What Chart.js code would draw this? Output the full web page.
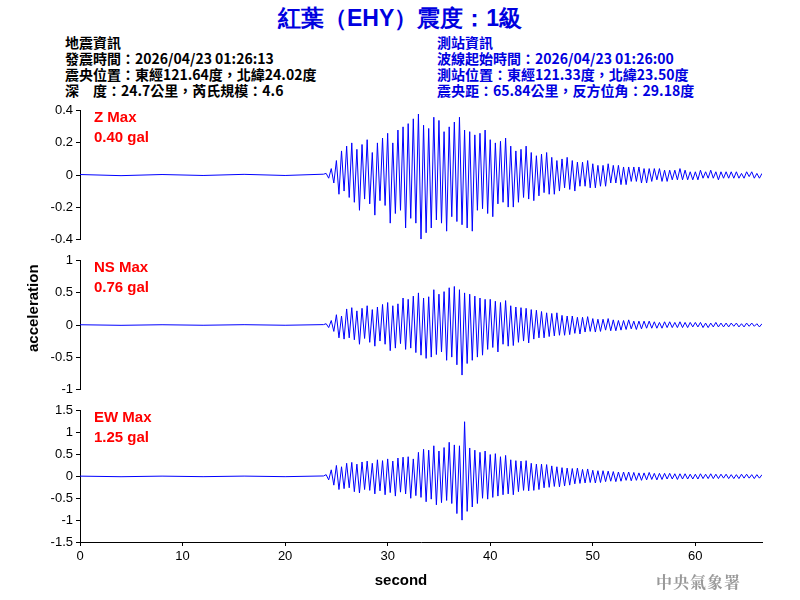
<!DOCTYPE html>
<html>
<head>
<meta charset="UTF-8">
<script src="https://cdn.jsdelivr.net/npm/chart.js@4/dist/chart.umd.min.js"></script>
<style>
  body { margin: 0; width: 800px; height: 600px; background: #fff; position: relative; overflow: hidden;
         font-family: "Liberation Sans", Arial, sans-serif; }
  .abs { position: absolute; white-space: nowrap; }
  #title { left: 0; width: 800px; top: 3px; text-align: center; color: #0000e0; font-weight: bold; font-size: 23px; }
  .info { font-size: 14px; line-height: 16px; font-weight: bold; }
  .info.cjk { font-family: "Noto Sans CJK TC", "Liberation Sans", sans-serif; }
  #left { left: 65px; top: 34px; color: #000; }
  #right { left: 437px; top: 34px; color: #0000e0; }
  .maxlbl { color: #f00; font-size: 15px; line-height: 20px; font-weight: bold; left: 94px; }
  canvas { position: absolute; left: 0; }
  #ylab { left: 24px; top: 352px; transform: rotate(-90deg); transform-origin: left top; font-weight: bold; font-size: 15px; }
  #xlab { left: 0; width: 802px; text-align: center; top: 571px; font-weight: bold; font-size: 15px; }
  #cwb { left: 656px; top: 570px; color: #999; font-size: 16px; font-weight: bold; font-family: "Noto Serif CJK TC", "Noto Sans CJK TC", serif; letter-spacing: 1px; }
</style>
</head>
<body>
<div id="title" class="abs">紅葉（EHY）震度：1級</div>
<div id="left" class="abs info cjk">地震資訊<br>發震時間：2026/04/23 01:26:13<br>震央位置：東經121.64度，北緯24.02度<br>深　度：24.7公里，芮氏規模：4.6</div>
<div id="right" class="abs info cjk">測站資訊<br>波線起始時間：2026/04/23 01:26:00<br>測站位置：東經121.33度，北緯23.50度<br>震央距：65.84公里，反方位角：29.18度</div>

<canvas id="cz" style="top:100px" width="770" height="150"></canvas>
<canvas id="cns" style="top:250px" width="770" height="150"></canvas>
<canvas id="cew" style="top:400px" width="770" height="200"></canvas>

<div class="abs maxlbl" style="top:107px">Z Max<br>0.40 gal</div>
<div class="abs maxlbl" style="top:257px">NS Max<br>0.76 gal</div>
<div class="abs maxlbl" style="top:407px">EW Max<br>1.25 gal</div>
<div id="ylab" class="abs">acceleration</div>
<div id="xlab" class="abs">second</div>
<div id="cwb" class="abs">中央氣象署</div>

<script>
// pre-event (quiet) samples
const quietTimes = [0, 4, 8, 12, 16, 20, 23.75];
const quietZ = [0.003, -0.004, 0.003, -0.003, 0.004, -0.003, 0.005];
const quietNS = [0.004, -0.005, 0.004, -0.004, 0.005, -0.004, 0.006];
const quietEW = [0.006, -0.007, 0.006, -0.006, 0.007, -0.006, 0.01];

// event samples every 0.25 s from 24 s
const eventStart = 24, eventStep = 0.25;
const zValues = [
  .01,-.02,.04,-.05, .09,-.12,.15,-.1, .18,-.14,.2,-.17, .16,-.22,.19,-.15,
  .22,-.18,.14,-.25, .2,-.16,.23,-.19, .26,-.3,.2,-.24, .28,-.22,.3,-.33,
  .32,-.27,.35,-.3, .38,-.4,.31,-.36, .29,-.33,.36,-.28, .34,-.3,.27,-.35,
  .3,-.26,.33,-.29, .36,-.31,.28,-.33, .27,-.35,.25,-.22, .26,-.21,.28,-.24,
  .22,-.26,.2,-.18, .21,-.17,.23,-.2, .18,-.2,.15,-.17, .16,-.14,.18,-.15,
  .14,-.16,.12,-.13, .13,-.11,.14,-.12, .11,-.12,.09,-.1, .1,-.08,.11,-.09,
  .09,-.1,.08,-.07, .08,-.07,.09,-.08, .07,-.08,.06,-.07, .06,-.07,.07,-.05,
  .06,-.05,.06,-.06, .05,-.06,.05,-.04, .05,-.04,.05,-.05, .04,-.05,.04,-.04,
  .04,-.03,.04,-.04, .03,-.04,.03,-.03, .03,-.03,.04,-.03, .03,-.03,.02,-.03,
  .02,-.03,.03,-.02, .02,-.02,.03,-.02, .02,-.03,.02,-.02, .02,-.02,.02,-.02,
  .02,-.02,.01,-.02, .02,-.01,.02,-.02, .01,-.02,.01
];
const nsValues = [
  .02,-.04,.07,-.1, .16,-.2,.14,-.22, .25,-.2,.27,-.23, .22,-.3,.26,-.21,
  .3,-.27,.24,-.33, .28,-.25,.32,-.3, .35,-.4,.3,-.36, .33,-.29,.42,-.38,
  .4,-.36,.45,-.43, .5,-.47,.42,-.52, .44,-.5,.55,-.46, .48,-.42,.52,-.55,
  .58,-.5,.6,-.62, .55,-.78,.5,-.6, .48,-.55,.45,-.5, .42,-.47,.4,-.38,
  .4,-.35,.37,-.42, .35,-.3,.38,-.33, .3,-.32,.28,-.27, .27,-.25,.26,-.28,
  .24,-.22,.23,-.2, .21,-.2,.19,-.18, .18,-.17,.19,-.16, .15,-.16,.14,-.15,
  .14,-.13,.12,-.14, .12,-.11,.13,-.1, .1,-.11,.09,-.1, .09,-.08,.1,-.09,
  .08,-.09,.07,-.08, .07,-.07,.08,-.06, .06,-.07,.06,-.06, .06,-.05,.06,-.05,
  .05,-.05,.04,-.05, .05,-.04,.05,-.04, .04,-.04,.05,-.04, .04,-.04,.04,-.03,
  .04,-.03,.04,-.04, .03,-.04,.03,-.03, .04,-.03,.03,-.03, .03,-.03,.03,-.02,
  .03,-.03,.02,-.03, .03,-.02,.03,-.02, .02,-.03,.02
];
const ewValues = [
  .04,-.08,.15,-.2, .25,-.3,.22,-.28, .3,-.26,.32,-.35, .28,-.38,.33,-.3,
  .35,-.32,.3,-.4, .38,-.33,.36,-.42, .4,-.37,.35,-.45, .42,-.36,.44,-.4,
  .45,-.5,.4,-.44, .55,-.48,.62,-.58, .6,-.52,.7,-.65, .58,-.6,.66,-.55,
  .78,-.62,.72,-.85, .7,-1.0,1.25,-.8, .65,-.7,.6,-.62, .55,-.5,.58,-.52,
  .5,-.48,.52,-.45, .45,-.42,.48,-.4, .38,-.42,.36,-.35, .35,-.32,.36,-.33,
  .3,-.32,.28,-.3, .28,-.26,.27,-.25, .24,-.23,.22,-.24, .2,-.22,.19,-.2,
  .18,-.17,.19,-.16, .16,-.15,.17,-.14, .14,-.15,.13,-.14, .13,-.12,.12,-.11,
  .11,-.12,.1,-.11, .1,-.09,.1,-.1, .09,-.09,.08,-.09, .08,-.08,.09,-.07,
  .07,-.08,.07,-.07, .07,-.06,.07,-.06, .06,-.07,.06,-.06, .06,-.06,.05,-.06,
  .05,-.06,.06,-.05, .05,-.05,.06,-.05, .05,-.05,.05,-.04, .05,-.05,.04,-.05,
  .04,-.05,.05,-.04, .05,-.04,.04,-.05, .04,-.04,.04
];
const xTicks = [0, 10, 20, 30, 40, 50, 60];
const xMax = 66.5;

function series(quiet, vals) {
  const pts = quietTimes.map((t, i) => ({ x: t, y: quiet[i] }));
  vals.forEach((v, i) => pts.push({ x: eventStart + i * eventStep, y: v }));
  return pts;
}

const tickFont = { family: '"Liberation Sans", Arial, sans-serif', size: 13 };

function makePanel(id, data, yMin, yMax, yStep, showX) {
  new Chart(document.getElementById(id), {
    type: 'line',
    data: { datasets: [{ data: data, borderColor: '#0000ff', borderWidth: 1, pointRadius: 0, tension: 0 }] },
    options: {
      responsive: false, animation: false,
      layout: { padding: { top: 8, bottom: showX ? 0 : 8, right: 8 } },
      plugins: { legend: { display: false }, tooltip: { enabled: false } },
      scales: {
        x: {
          type: 'linear', min: 0, max: xMax, display: showX,
          afterFit: s => { if (showX) s.height = 58; },
          afterBuildTicks: s => { s.ticks = xTicks.map(v => ({ value: v })); },
          grid: { drawOnChartArea: false, tickLength: 4, color: '#000' },
          border: { color: '#000' },
          ticks: { color: '#000', font: tickFont, maxRotation: 0 }
        },
        y: {
          min: yMin, max: yMax,
          afterFit: s => { s.width = 80; },
          grid: { drawOnChartArea: false, tickLength: 4, color: '#000' },
          border: { color: '#000' },
          ticks: { stepSize: yStep, autoSkip: false, color: '#000', font: tickFont, padding: 3,
                   callback: v => String(Math.round(v * 10) / 10) }
        }
      }
    }
  });
}

makePanel('cz', series(quietZ, zValues), -0.4, 0.4, 0.2, false);
makePanel('cns', series(quietNS, nsValues), -1, 1, 0.5, false);
makePanel('cew', series(quietEW, ewValues), -1.5, 1.5, 0.5, true);
</script>
</body>
</html>
